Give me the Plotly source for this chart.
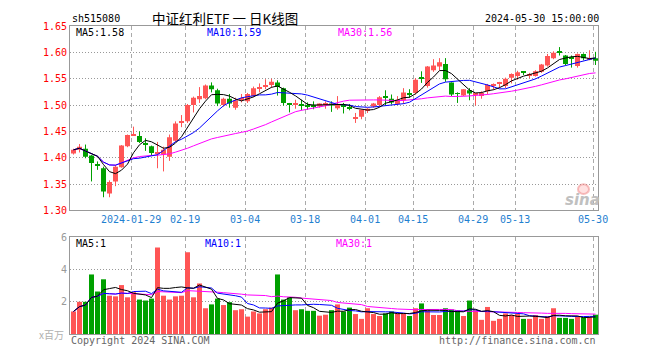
import plotly.graph_objects as go
import pandas as pd

# ---- trading days (2024) ----
jan = [15, 16, 17, 18, 19, 22, 23, 24, 25, 26, 29, 30, 31]
feb = [1, 2, 5, 6, 7, 8, 19, 20, 21, 22, 23, 26, 27, 28, 29]
mar = [1, 4, 5, 6, 7, 8, 11, 12, 13, 14, 15, 18, 19, 20, 21, 22, 25, 26, 27, 28, 29]
apr = [1, 2, 3, 8, 9, 10, 11, 12, 15, 16, 17, 18, 19, 22, 23, 24, 25, 26, 29, 30]
may = [6, 7, 8, 9, 10, 13, 14, 15, 16, 17, 20, 21, 22, 23, 24, 27, 28, 29, 30]
dates = ([f"2024-01-{d:02d}" for d in jan] + [f"2024-02-{d:02d}" for d in feb] +
         [f"2024-03-{d:02d}" for d in mar] + [f"2024-04-{d:02d}" for d in apr] +
         [f"2024-05-{d:02d}" for d in may])

open_ = [1.408, 1.415, 1.417, 1.404, 1.388, 1.380, 1.332, 1.355, 1.382, 1.422,
         1.443, 1.441, 1.428, 1.422, 1.407, 1.406, 1.402, 1.432, 1.467, 1.469,
         1.500, 1.511, 1.513, 1.537, 1.528, 1.500, 1.512, 1.495, 1.510, 1.507,
         1.517, 1.531, 1.536, 1.538, 1.543, 1.532, 1.503, 1.500, 1.502, 1.500,
         1.499, 1.497, 1.499, 1.503, 1.494, 1.500, 1.495, 1.475, 1.478, 1.490,
         1.497, 1.500, 1.517, 1.512, 1.502, 1.509, 1.521, 1.523, 1.552, 1.536,
         1.566, 1.573, 1.578, 1.543, 1.522, 1.518, 1.528, 1.520, 1.517, 1.526,
         1.538, 1.540, 1.536, 1.552, 1.555, 1.562, 1.556, 1.555, 1.563, 1.575,
         1.589, 1.600, 1.594, 1.590, 1.574, 1.597, 1.587, 1.589]
high = [1.417, 1.426, 1.425, 1.405, 1.393, 1.383, 1.357, 1.386, 1.424, 1.444,
        1.459, 1.450, 1.437, 1.423, 1.430, 1.421, 1.444, 1.469, 1.481, 1.502,
        1.516, 1.534, 1.539, 1.543, 1.531, 1.514, 1.521, 1.514, 1.521, 1.523,
        1.535, 1.541, 1.549, 1.550, 1.547, 1.533, 1.504, 1.510, 1.510, 1.505,
        1.507, 1.503, 1.507, 1.507, 1.517, 1.504, 1.502, 1.485, 1.492, 1.494,
        1.504, 1.517, 1.528, 1.520, 1.517, 1.532, 1.530, 1.551, 1.564, 1.574,
        1.587, 1.589, 1.589, 1.543, 1.524, 1.530, 1.532, 1.523, 1.526, 1.540,
        1.541, 1.544, 1.552, 1.560, 1.565, 1.563, 1.561, 1.566, 1.578, 1.597,
        1.602, 1.610, 1.595, 1.594, 1.598, 1.598, 1.604, 1.601]
low = [1.406, 1.410, 1.399, 1.355, 1.377, 1.325, 1.325, 1.346, 1.381, 1.420,
       1.442, 1.428, 1.413, 1.405, 1.380, 1.374, 1.394, 1.430, 1.458, 1.466,
       1.486, 1.504, 1.511, 1.524, 1.498, 1.497, 1.495, 1.491, 1.505, 1.504,
       1.515, 1.524, 1.530, 1.533, 1.518, 1.499, 1.486, 1.493, 1.490, 1.491,
       1.492, 1.495, 1.493, 1.487, 1.491, 1.484, 1.490, 1.466, 1.473, 1.485,
       1.495, 1.498, 1.500, 1.501, 1.500, 1.502, 1.514, 1.520, 1.542, 1.533,
       1.563, 1.566, 1.544, 1.517, 1.504, 1.517, 1.509, 1.499, 1.512, 1.520,
       1.529, 1.532, 1.532, 1.541, 1.548, 1.557, 1.551, 1.554, 1.561, 1.573,
       1.587, 1.594, 1.575, 1.571, 1.571, 1.585, 1.585, 1.576]
close = [1.415, 1.421, 1.402, 1.390, 1.386, 1.336, 1.354, 1.383, 1.423, 1.443,
         1.444, 1.430, 1.425, 1.409, 1.411, 1.415, 1.439, 1.465, 1.469, 1.500,
         1.514, 1.517, 1.537, 1.530, 1.503, 1.512, 1.503, 1.509, 1.512, 1.521,
         1.532, 1.533, 1.538, 1.544, 1.534, 1.504, 1.501, 1.504, 1.500, 1.498,
         1.497, 1.503, 1.504, 1.499, 1.502, 1.498, 1.493, 1.477, 1.491, 1.493,
         1.503, 1.515, 1.515, 1.505, 1.510, 1.524, 1.520, 1.548, 1.550, 1.573,
         1.575, 1.581, 1.549, 1.520, 1.521, 1.530, 1.522, 1.522, 1.523, 1.538,
         1.540, 1.542, 1.550, 1.559, 1.562, 1.561, 1.557, 1.564, 1.577, 1.593,
         1.599, 1.599, 1.578, 1.589, 1.597, 1.589, 1.588, 1.584]
volume = [1.40, 2.00, 2.00, 3.70, 2.64, 3.40, 2.38, 2.34, 3.04, 2.28,
          2.60, 2.14, 2.08, 2.20, 5.38, 2.38, 2.14, 2.34, 2.38, 5.08,
          2.28, 3.14, 1.60, 1.84, 2.20, 1.80, 1.98, 1.48, 1.54, 1.08,
          1.40, 1.28, 1.54, 1.64, 3.70, 2.14, 2.28, 1.48, 1.54, 1.44,
          1.44, 1.14, 1.20, 1.48, 1.84, 1.40, 1.64, 1.24, 0.94, 1.60,
          1.24, 1.12, 1.28, 1.40, 1.28, 1.28, 1.12, 1.60, 1.90, 1.48,
          1.18, 1.18, 1.60, 1.52, 1.48, 1.12, 2.08, 1.48, 0.88, 1.68,
          0.82, 0.94, 1.28, 1.18, 1.24, 0.94, 0.94, 1.18, 0.94, 1.12,
          1.60, 1.00, 1.00, 0.94, 1.08, 1.04, 1.04, 1.20]

tick_dates = ["2024-01-29", "2024-02-19", "2024-03-04", "2024-03-18", "2024-04-01",
              "2024-04-15", "2024-04-29", "2024-05-13", "2024-05-30"]
tick_labels = ["2024-01-29", "02-19", "03-04", "03-18", "04-01",
               "04-15", "04-29", "05-13", "05-30"]
price_ticks = [1.30, 1.35, 1.40, 1.45, 1.50, 1.55, 1.60, 1.65]
vol_ticks = [2, 4, 6]

RED = "#ff5555"
GREEN = "#00a000"
MONO = "DejaVu Sans Mono"

n = len(dates)
idx = list(range(n))
up = [c >= o for o, c in zip(open_, close)]
colors = [RED if u else GREEN for u in up]
body_lo = [min(o, c) for o, c in zip(open_, close)]
body_h = [max(abs(c - o), 0.0018) for o, c in zip(open_, close)]

cs = pd.Series(close)
vs = pd.Series(volume)
ma = {k: cs.rolling(k, min_periods=1).mean() for k in (5, 10, 30)}
vma = {k: vs.rolling(k, min_periods=1).mean() for k in (5, 10, 30)}
ma_col = {5: "#000000", 10: "#0000ff", 30: "#ff00ff"}

fig = go.Figure()

# wicks
for col, flag in ((RED, True), (GREEN, False)):
    wx, wy = [], []
    for i in idx:
        if up[i] == flag:
            wx += [i, i, None]
            wy += [low[i], high[i], None]
    fig.add_trace(go.Scatter(x=wx, y=wy, mode="lines", line=dict(color=col, width=1),
                             xaxis="x", yaxis="y", hoverinfo="skip"))
# bodies
fig.add_trace(go.Bar(x=idx, y=body_h, base=body_lo, width=5 / 6,
                     marker=dict(color=colors, line=dict(width=0)),
                     xaxis="x", yaxis="y"))
for k in (30, 10, 5):
    fig.add_trace(go.Scatter(x=idx, y=ma[k], mode="lines",
                             line=dict(color=ma_col[k], width=1), xaxis="x", yaxis="y"))

# volume
fig.add_trace(go.Bar(x=idx, y=volume, width=5 / 6,
                     marker=dict(color=colors, line=dict(width=0)),
                     xaxis="x2", yaxis="y2"))
for k in (30, 10, 5):
    fig.add_trace(go.Scatter(x=idx, y=vma[k], mode="lines",
                             line=dict(color=ma_col[k], width=1), xaxis="x2", yaxis="y2"))

# page has an 8px body margin: figure coords = page coords - 8
OFF = 8
W, H = 644, 344
L, R, T, B = 62, 54, 13, 12
PW, PH = W - L - R, H - T - B


def px(x):
    return (x - OFF - L) / PW


def py(y):
    return (H - B - (y - OFF)) / PH


tickvals = [dates.index(d) - 0.4 for d in tick_dates]
xr = [-0.5 - 1 / 12, n - 0.5 - 1 / 12]
common_x = dict(range=xr, tickvals=tickvals, showgrid=True, gridcolor="#aaaaaa",
                griddash="4px,3px", gridwidth=1, showline=True, mirror=True,
                linecolor="#999999", linewidth=1, zeroline=False, ticks="",
                fixedrange=True)

fig.update_layout(
    width=W, height=H, margin=dict(l=L, r=R, t=T, b=B),
    paper_bgcolor="white", plot_bgcolor="white", showlegend=False,
    xaxis=dict(common_x, anchor="y", ticktext=tick_labels,
               tickfont=dict(family=MONO, size=10, color="#1f80d0")),
    yaxis=dict(domain=[py(212), 1], range=[1.30, 1.65], tickvals=price_ticks,
               tickformat=".2f", tickfont=dict(family=MONO, size=10, color="#ff0000"),
               showgrid=True, gridcolor="#999999", griddash="1px,2px",
               showline=True, mirror=True, linecolor="#999999", zeroline=False,
               ticks=""),
    xaxis2=dict(common_x, anchor="y2", showticklabels=False),
    yaxis2=dict(domain=[0, py(240)], range=[0, 6], tickvals=vol_ticks,
                tickfont=dict(family=MONO, size=10, color="#999999"),
                showgrid=True, gridcolor="#999999", griddash="1px,2px",
                showline=True, mirror=True, linecolor="#999999", zeroline=False,
                ticks=""),
)


def note(text, x, y, color="#000000", size=10, family=MONO, anchor="left", **kw):
    fig.add_annotation(text=text, x=px(x), y=py(y), xref="paper", yref="paper",
                       xanchor=anchor, yanchor="middle", showarrow=False,
                       font=dict(family=family, size=size, color=color), **kw)


note("sh515080", 70, 13)
note("中证红利ETF\u00a0一\u00a0日K线图", 150, 12.5, size=13.5, family="Noto Sans CJK SC")
note("2024-05-30 15:00:00", 601, 13, anchor="right")
note("MA5:1.58", 74, 27.5)
note("MA10:1.59", 205, 27.5, color="#0000ff")
note("MA30:1.56", 336, 27.5, color="#ff00ff")
note("MA5:1", 74, 246)
note("MA10:1", 203, 246, color="#0000ff")
note("MA30:1", 334, 246, color="#ff00ff")
note("x百万", 66, 341, color="#b0b0b0", family="Noto Sans CJK SC", anchor="right")
note("Copyright 2024 SINA.COM", 69, 347, color="#666666")
note("http://finance.sina.com.cn", 598, 347, color="#666666", anchor="right")
note("<b><i>sina</i></b>", 582, 201, color="#c0c0c0", size=15, family="DejaVu Sans",
     anchor="center")
fig.add_shape(type="circle", xref="paper", yref="paper",
              x0=px(578), x1=px(589), y0=py(195), y1=py(185),
              line=dict(color="rgba(240,130,130,0.5)", width=2),
              fillcolor="rgba(255,170,170,0.35)")

fig.write_html("out.html")
